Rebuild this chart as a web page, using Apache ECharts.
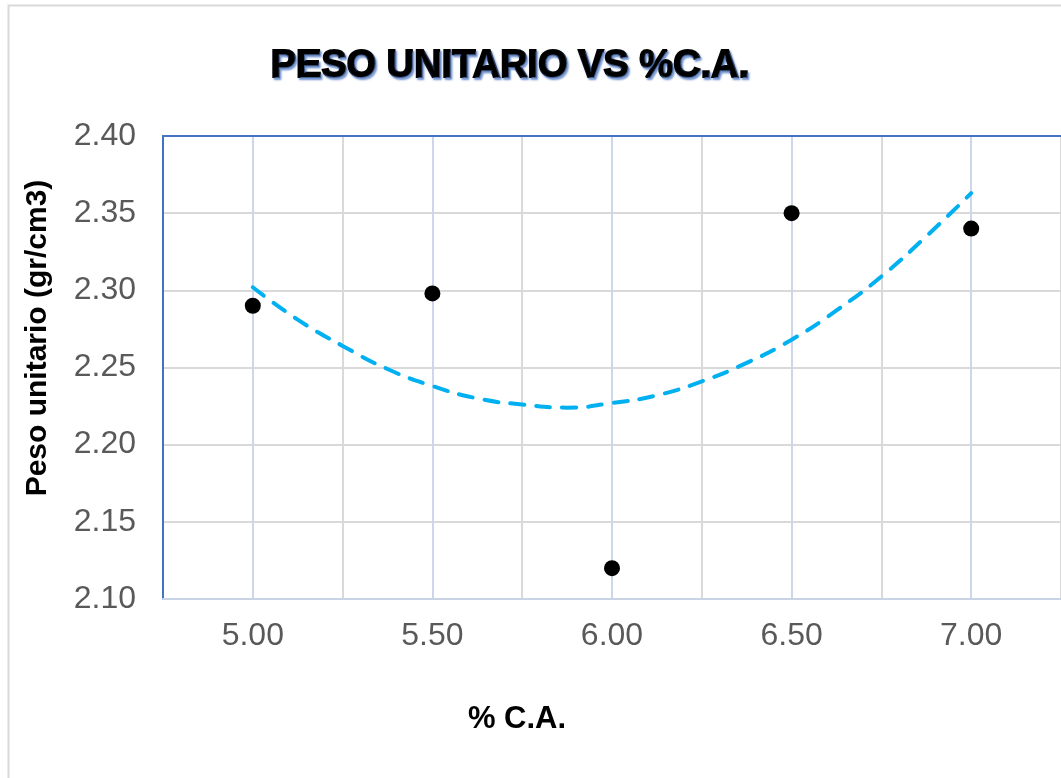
<!DOCTYPE html>
<html>
<head>
<meta charset="utf-8">
<script src="https://cdn.jsdelivr.net/npm/echarts@6/dist/echarts.min.js"></script>
<style>
  html, body { margin: 0; padding: 0; background: #ffffff; }
  #chart { width: 1061px; height: 778px; }
</style>
</head>
<body>
<div id="chart"></div>
<script>
// Asphalt content (% C.A.) and measured unit weight (gr/cm3)
const asphaltPct = [5.00, 5.50, 6.00, 6.50, 7.00];
const unitWeight = [2.290, 2.298, 2.120, 2.350, 2.340];

// Second-order trend line, sampled every 0.125 % between 5.00 and 7.00
const trendX = [5.000, 5.125, 5.250, 5.375, 5.500, 5.625, 5.750, 5.875, 6.000,
                6.125, 6.250, 6.375, 6.500, 6.625, 6.750, 6.875, 7.000];
const trendY = [2.302, 2.281, 2.264, 2.249, 2.238, 2.230, 2.226, 2.224, 2.227,
                2.232, 2.241, 2.253, 2.268, 2.287, 2.309, 2.335, 2.363];

const titleText = 'PESO UNITARIO VS %C.A.';
const yTitle = 'Peso unitario (gr/cm3)';
const xTitle = '% C.A.';

const chart = echarts.init(document.getElementById('chart'), null, { renderer: 'canvas' });

const font = '"Liberation Sans", Arial, sans-serif';

chart.setOption({
  animation: false,
  backgroundColor: '#ffffff',
  title: {
    text: titleText,
    left: 505,
    top: 43,
    textAlign: 'center',
    textStyle: {
      fontFamily: font,
      fontSize: 38,
      fontWeight: 'bold',
      color: '#000000',
      textBorderColor: '#000000',
      textBorderWidth: 2,
      textShadowColor: 'rgba(91,130,200,0.8)',
      textShadowOffsetX: 1.5,
      textShadowOffsetY: 2,
      textShadowBlur: 2
    }
  },
  grid: {
    left: 163,
    top: 136,
    width: 900,
    height: 463
  },
  xAxis: [
    {
      type: 'value',
      min: 4.75,
      max: 7.25,
      interval: 0.25,
      axisLine: { show: true, onZero: false, lineStyle: { color: '#c9d3e6', width: 2 } },
      axisTick: { show: false },
      axisLabel: {
        margin: 21,
        fontFamily: font,
        fontSize: 32,
        color: '#595959',
        showMinLabel: false,
        showMaxLabel: false,
        formatter: function (v) {
          const k = Math.round(v * 100);
          return (k % 50 === 0) ? v.toFixed(2) : '';
        }
      },
      splitLine: {
        show: true,
        lineStyle: { color: ['#d9d9d9', '#ccd7ee'], width: 2 }
      }
    },
    {
      // top frame of the plot area
      type: 'value',
      position: 'top',
      min: 4.75,
      max: 7.25,
      axisLine: { show: true, onZero: false, lineStyle: { color: '#4472c4', width: 2 } },
      axisTick: { show: false },
      axisLabel: { show: false },
      splitLine: { show: false }
    }
  ],
  yAxis: {
    type: 'value',
    min: 2.10,
    max: 2.40,
    interval: 0.05,
    axisLine: { show: true, lineStyle: { color: '#4472c4', width: 2 } },
    axisTick: { show: false },
    axisLabel: {
      margin: 27,
      fontFamily: font,
      fontSize: 32,
      color: '#595959',
      formatter: function (v) { return v.toFixed(2); }
    },
    splitLine: { show: true, lineStyle: { color: '#d9d9d9', width: 2 } }
  },
  graphic: [
    {
      type: 'rect',
      silent: true,
      z: -10,
      shape: { x: 8.5, y: 5.5, width: 1100, height: 820 },
      style: { fill: 'none', stroke: '#d9d9d9', lineWidth: 2 }
    },
    {
      type: 'text',
      x: 38,
      y: 338,
      rotation: Math.PI / 2,
      style: {
        text: yTitle,
        fontFamily: font,
        fontSize: 30,
        fontWeight: 'bold',
        fill: '#000000',
        align: 'center',
        verticalAlign: 'middle'
      }
    },
    {
      type: 'text',
      x: 517,
      y: 719,
      style: {
        text: xTitle,
        fontFamily: font,
        fontSize: 31,
        fontWeight: 'bold',
        fill: '#000000',
        align: 'center',
        verticalAlign: 'middle'
      }
    }
  ],
  series: [
    {
      name: 'Tendencia',
      type: 'line',
      data: trendX.map((x, i) => [x, trendY[i]]),
      smooth: true,
      showSymbol: false,
      z: 2,
      lineStyle: { color: '#00b0f0', width: 4, type: [14, 12], cap: 'round' }
    },
    {
      name: 'Peso unitario',
      type: 'scatter',
      data: asphaltPct.map((x, i) => [x, unitWeight[i]]),
      symbol: 'circle',
      symbolSize: 16,
      z: 3,
      itemStyle: { color: '#000000', opacity: 1 }
    }
  ]
});
</script>
</body>
</html>
